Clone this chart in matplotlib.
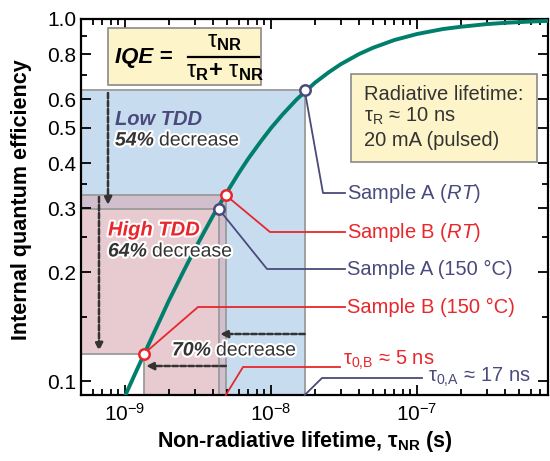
import math
import matplotlib
matplotlib.use("Agg")
import matplotlib.pyplot as plt
import matplotlib.patheffects as pe
from matplotlib.patches import Rectangle
from matplotlib.ticker import FixedLocator, LogLocator, NullFormatter

plt.rcParams['font.family'] = ['Liberation Sans', 'DejaVu Sans']
plt.rcParams['mathtext.fontset'] = 'custom'
plt.rcParams['mathtext.rm'] = 'Liberation Sans'
plt.rcParams['mathtext.it'] = 'Liberation Sans:italic'
plt.rcParams['mathtext.bf'] = 'Liberation Sans:bold'

# IQE curve (tau_R ~ 10 ns)
tau_nr = [1.0e-9, 1.2e-9, 1.5e-9, 2e-9, 2.5e-9, 3e-9, 4e-9, 5e-9, 6e-9, 7e-9,
          8.5e-9, 1e-8, 1.2e-8, 1.5e-8, 2e-8, 2.5e-8, 3e-8, 4e-8, 5e-8, 7e-8,
          1e-7, 1.5e-7, 2e-7, 3e-7, 4e-7, 6e-7, 8e-7]
iqe = [0.091, 0.107, 0.130, 0.167, 0.200, 0.231, 0.286, 0.333, 0.375, 0.412,
       0.459, 0.500, 0.545, 0.600, 0.667, 0.714, 0.750, 0.800, 0.833, 0.875,
       0.909, 0.938, 0.952, 0.968, 0.976, 0.984, 0.988]

# measured samples
samples = ['Sample A ($\\mathit{RT}$)', 'Sample B ($\\mathit{RT}$)',
           'Sample A (150 °C)', 'Sample B (150 °C)']
sample_tau = [17e-9, 4.9e-9, 4.4e-9, 1.35e-9]
sample_iqe = [0.635, 0.326, 0.298, 0.119]

x_ticks = [1e-9, 1e-8, 1e-7]
y_ticks = [0.1, 0.2, 0.3, 0.4, 0.5, 0.6, 0.8, 1.0]
y_minor = [0.15, 0.25, 0.35, 0.7, 0.9]

NAVY = '#4a4a7c'
RED = '#e8262b'
GREEN = '#00806c'
DARK = '#333333'
EDGE = '#9a9a9a'

W, H = 550, 461
fig = plt.figure(figsize=(W / 100, H / 100), dpi=100)
ax = fig.add_axes([80.7 / W, 1 - 395 / H, (548 - 80.7) / W, (395 - 19) / H])
ax.set_xscale('log')
ax.set_yscale('log')
ax.set_xlim(4.97e-10, 7.88e-7)
ax.set_ylim(0.0915, 1.0)
x0, y0 = ax.get_xlim()[0], ax.get_ylim()[0]


def px(x, y):
    # image pixel (top-left origin) -> data coords
    return ax.transData.inverted().transform((x, H - y))


# shaded rectangles: A RT, B RT, A 150, B 150
fills = ['#c8dcef', '#d2bfcd', '#e7cbd0', 'white']
for t, q, c in zip(sample_tau, sample_iqe, fills):
    ax.add_patch(Rectangle((x0, y0), t - x0, q - y0, facecolor=c,
                           edgecolor='none', zorder=1))
    ax.plot([x0, t, t], [q, q, y0], color=EDGE, lw=1.3, zorder=1.5)

# model curve
ax.plot(tau_nr, iqe, color=GREEN, lw=2.8, zorder=3, solid_capstyle='butt')


# dashed arrows
def dashed_arrow(p0, p1):
    ax.annotate('', xy=p1, xytext=p0,
                arrowprops=dict(arrowstyle='-|>,head_length=0.45,head_width=0.22',
                                color=DARK, lw=1.8, linestyle=(0, (2.2, 1.0)),
                                shrinkA=0, shrinkB=0), zorder=4)
    ax.annotate('', xy=p1, xytext=p1,
                arrowprops=dict(arrowstyle='-|>,head_length=0.45,head_width=0.22',
                                color=DARK, lw=1.0, shrinkA=0, shrinkB=0), zorder=4)


xa = px(108, 0)[0]
xb = px(99, 0)[0]
dashed_arrow((xa, px(0, 93)[1]), (xa, px(0, 205)[1]))
dashed_arrow((xb, px(0, 197)[1]), (xb, px(0, 351)[1]))
ya = px(0, 334)[1]
yb = px(0, 366)[1]
dashed_arrow((sample_tau[0], ya), (px(220, 0)[0], ya))
dashed_arrow((sample_tau[1], yb), (px(146, 0)[0], yb))

# sample markers
colors = [NAVY, RED, NAVY, RED]
for t, q, c in zip(sample_tau, sample_iqe, colors):
    ax.plot(t, q, 'o', ms=7.5, mfc='white', mec=c, mew=1.8, zorder=6)

# sample leaders and labels
label_y = [193, 232, 269, 307]
elbows = [(323, 193), (270, 232), (267, 269), (198, 307)]
for t, q, c, lab, ly, (ex, ey) in zip(sample_tau, sample_iqe, colors, samples,
                                      label_y, elbows):
    e = px(ex, ey)
    end = px(345, ly)
    ax.plot([t, e[0], end[0]], [q, e[1], end[1]], color=c, lw=1.3,
            zorder=5, clip_on=False)
    ax.text(*px(347, ly), lab, color=c, fontsize=14.5, va='center',
            ha='left', zorder=7)

# tau_0 leaders
e = px(243, 367)
end = px(340, 367)
ax.plot([sample_tau[1], e[0], end[0]], [y0, e[1], end[1]], color=RED, lw=1.3,
        zorder=5, clip_on=False)
ax.text(*px(343, 360), '$\\mathrm{\\tau}_{\\mathrm{0{,}B}}$ ≈ 5 ns', color=RED,
        fontsize=14.5, va='center', ha='left', zorder=7)
e = px(322, 378)
end = px(422, 378)
ax.plot([sample_tau[0], e[0], end[0]], [y0, e[1], end[1]], color=NAVY, lw=1.3,
        zorder=5, clip_on=False)
ax.text(*px(428, 377), '$\\mathrm{\\tau}_{\\mathrm{0{,}A}}$ ≈ 17 ns', color=NAVY,
        fontsize=14.5, va='center', ha='left', zorder=7)

# TDD annotations
halo = [pe.withStroke(linewidth=3, foreground='white')]


def decrease(x, y, pct):
    t1 = ax.text(*px(x, y), pct, fontsize=14, weight='bold', style='italic',
                 color=DARK, va='center', ha='left', zorder=7, path_effects=halo)
    ax.annotate('decrease', xy=(1, 0), xycoords=t1, xytext=(3.5, 0),
                textcoords='offset points', fontsize=14, color=DARK,
                va='bottom', ha='left', zorder=7, path_effects=halo)


ax.text(*px(115, 119), 'Low TDD', fontsize=14.5, weight='bold', style='italic',
        color=NAVY, va='center', ha='left', zorder=7)
decrease(115, 141, '54%')
ax.text(*px(108, 230), 'High TDD', fontsize=14.5, weight='bold', style='italic',
        color=RED, va='center', ha='left', zorder=7, path_effects=halo)
decrease(108, 252, '64%')
decrease(172, 351, '70%')

# boxes
def fig_box(x1, y1, x2, y2):
    fig.add_artist(Rectangle((x1 / W, 1 - y2 / H), (x2 - x1) / W, (y2 - y1) / H,
                             transform=fig.transFigure, facecolor='#fdf4c9',
                             edgecolor='#8a8a8a', lw=1.2, zorder=5))


def ftext(x, y, s, **kw):
    fig.text(x / W, 1 - y / H, s, zorder=6, **kw)


fig_box(108, 28, 261, 85)
ftext(115, 57, 'IQE =', fontsize=16, weight='bold', style='italic',
      va='center', ha='left', color='black')
ftext(225, 42, '$\\mathrm{\\tau}_{\\mathbf{NR}}$', fontsize=17, va='center',
      ha='center', color='black')
ftext(225, 72, '$\\mathrm{\\tau}_{\\mathbf{R}}\\mathbf{+}\\ \\mathrm{\\tau}_{\\mathbf{NR}}$',
      fontsize=17, va='center', ha='center', color='black')
fig.add_artist(plt.Line2D([188 / W, 259 / W], [1 - 57 / H, 1 - 57 / H],
                          transform=fig.transFigure, color='black', lw=1.6,
                          zorder=6))

fig_box(351, 74, 537, 162)
ftext(364, 94, 'Radiative lifetime:', fontsize=14.5, va='center', ha='left',
      color=DARK)
ftext(364, 116, '$\\mathrm{\\tau}_{\\mathrm{R}}$ ≈ 10 ns', fontsize=14.5,
      va='center', ha='left', color=DARK)
ftext(364, 140, '20 mA (pulsed)', fontsize=14.5, va='center', ha='left',
      color=DARK)

# axes styling
ax.yaxis.set_major_locator(FixedLocator(y_ticks))
ax.yaxis.set_minor_locator(FixedLocator(y_minor))
ax.set_yticklabels([f'{v:.1f}' for v in y_ticks])
ax.yaxis.set_minor_formatter(NullFormatter())
ax.xaxis.set_major_locator(FixedLocator(x_ticks))
ax.set_xticklabels(['$\\mathdefault{10^{%d}}$' % round(math.log10(v))
                    for v in x_ticks])
ax.xaxis.set_minor_locator(LogLocator(base=10, subs=range(2, 10)))
ax.xaxis.set_minor_formatter(NullFormatter())
ax.tick_params(which='both', direction='in', top=True, right=True,
               width=1.3, labelsize=15)
ax.tick_params(which='major', length=7)
ax.tick_params(which='minor', length=4)
ax.tick_params(axis='y', pad=3)
ax.tick_params(axis='x', pad=6)
for s in ax.spines.values():
    s.set_linewidth(1.6)

fig.text(22 / W, 1 - 200 / H, 'Internal quantum efficiency', rotation=90,
         fontsize=15.5, weight='bold', va='center', ha='center')
fig.text(305 / W, 1 - 441 / H, 'Non-radiative lifetime, $\\mathbf{\\tau_{NR}}$ (s)',
         fontsize=15.5, weight='bold', va='center', ha='center')

fig.savefig('out.png', dpi=100)
